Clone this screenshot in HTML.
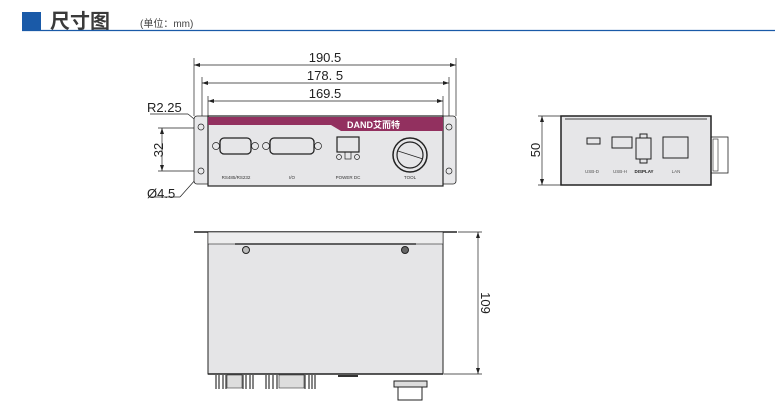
<!DOCTYPE html>
<html><head><meta charset="utf-8"><style>
body{margin:0;width:775px;height:409px;background:#fff;overflow:hidden}
svg{display:block}
text{font-family:"Liberation Sans","Noto Sans CJK SC",sans-serif}
</style></head><body>
<svg width="775" height="409" viewBox="0 0 775 409">
<rect x="22" y="12" width="19" height="18" fill="#1a5aa8"/>
<text x="50" y="28" font-size="20" fill="#3a3a3a" font-weight="bold">尺寸图</text>
<text x="140" y="27" font-size="10" fill="#444">(单位：mm)</text>
<line x1="22" y1="30.5" x2="775" y2="30.5" stroke="#1a5aa8" stroke-width="1.2"/>

<g stroke="#222" stroke-width="0.7" fill="none">
<line x1="194" y1="58" x2="194" y2="116"/><line x1="456" y1="58" x2="456" y2="116"/>
<line x1="194" y1="65" x2="456" y2="65"/>
<line x1="202" y1="77" x2="202" y2="118"/><line x1="449" y1="77" x2="449" y2="118"/>
<line x1="202" y1="83" x2="449" y2="83"/>
<line x1="208" y1="96" x2="208" y2="117"/><line x1="443" y1="96" x2="443" y2="117"/>
<line x1="208" y1="101" x2="443" y2="101"/>
<line x1="162" y1="128" x2="162" y2="171"/>
<line x1="158" y1="128" x2="204" y2="128"/><line x1="158" y1="171" x2="204" y2="171"/>
<line x1="150" y1="114" x2="188" y2="114"/><line x1="188" y1="114" x2="210" y2="132"/>
<line x1="150" y1="197" x2="180" y2="197"/><line x1="180" y1="197" x2="204" y2="170"/>
</g>
<g fill="#222">
<path d="M194,65 l6,-2 v4z M456,65 l-6,-2 v4z M202,83 l6,-2 v4z M449,83 l-6,-2 v4z M208,101 l6,-2 v4z M443,101 l-6,-2 v4z M162,128 l-2,6 h4z M162,171 l-2,-6 h4z"/>
</g>
<g font-size="13" fill="#222" text-anchor="middle">
<text x="325" y="62">190.5</text><text x="325" y="80">178. 5</text><text x="325" y="98">169.5</text>
</g>
<text x="147" y="112" font-size="13" fill="#222">R2.25</text>
<text x="147" y="198" font-size="13" fill="#222">Ø4.5</text>
<text x="158" y="150" font-size="13" fill="#222" text-anchor="middle" transform="rotate(-90 158 150)" dy="5">32</text>

<rect x="194" y="116" width="262" height="68" rx="3" fill="#e8e8ea" stroke="#222" stroke-width="0.8"/>
<rect x="208" y="116" width="235" height="70" fill="#e6e6e8" stroke="#222" stroke-width="1.2"/>
<path d="M208,117 H443 V131 H341 L331,125 H208Z" fill="#92305f"/>
<text x="347" y="128" font-size="9" fill="#fff" font-weight="bold">DAND艾而特</text>
<g stroke="#222" stroke-width="0.7" fill="none">
<circle cx="201" cy="127" r="3"/><circle cx="201" cy="171" r="3"/><circle cx="449" cy="127" r="3"/><circle cx="449" cy="171" r="3"/>
<rect x="220" y="138" width="31" height="16" rx="4" stroke-width="1.3"/><circle cx="216" cy="146" r="3.5"/><circle cx="255" cy="146" r="3.5"/>
<rect x="270" y="138" width="44" height="16" rx="4" stroke-width="1.3"/><circle cx="266" cy="146" r="3.5"/><circle cx="318" cy="146" r="3.5"/>
<rect x="337" y="137" width="22" height="15" stroke-width="1.2"/><rect x="345" y="152" width="6" height="7"/>
<circle cx="339" cy="157" r="2.5"/><circle cx="357" cy="157" r="2.5"/>
<circle cx="410" cy="155" r="17" stroke-width="1.5"/><circle cx="410" cy="155" r="13" stroke-width="1.2"/><line x1="398" y1="151" x2="423" y2="159"/>
</g>
<g font-size="4.5" fill="#333" text-anchor="middle">
<text x="236" y="179">RS485/RS232</text><text x="292" y="179">I/O</text><text x="348" y="179">POWER DC</text><text x="410" y="179">TOOL</text>
</g>

<g stroke="#222" stroke-width="0.7" fill="none">
<line x1="542" y1="116" x2="542" y2="185"/>
<line x1="538" y1="116" x2="561" y2="116"/><line x1="538" y1="185" x2="561" y2="185"/>
</g>
<path d="M542,116 l-2,6 h4z M542,185 l-2,-6 h4z" fill="#222"/>
<text x="535" y="150" font-size="13" fill="#222" text-anchor="middle" transform="rotate(-90 535 150)" dy="5">50</text>
<rect x="561" y="116" width="150" height="69" fill="#e6e6e8" stroke="#222" stroke-width="1.5"/>
<line x1="565" y1="119" x2="707" y2="119" stroke="#444" stroke-width="1"/>
<g stroke="#222" stroke-width="1" fill="none">
<rect x="587" y="138" width="13" height="6"/><rect x="612" y="137" width="20" height="11"/>
<rect x="636" y="138" width="15" height="21"/><rect x="640" y="134" width="7" height="4"/><rect x="640" y="159" width="7" height="4"/>
<rect x="663" y="137" width="25" height="21"/>
<rect x="711" y="137" width="17" height="36" stroke-width="0.8"/><rect x="713" y="139" width="5" height="32" stroke-width="0.6"/>
</g>
<g font-size="4.5" fill="#555" text-anchor="middle">
<text x="592" y="173">USB-D</text><text x="620" y="173">USB-H</text><text x="644" y="173" font-weight="bold" fill="#222">DISPLAY</text><text x="676" y="173">LAN</text>
</g>

<line x1="194" y1="232" x2="457" y2="232" stroke="#222" stroke-width="1.5"/>
<rect x="208" y="232" width="235" height="142" fill="#e5e5e7" stroke="#222" stroke-width="1"/>
<rect x="208" y="232" width="235" height="12" fill="#ededee" stroke="#222" stroke-width="0.6"/>
<line x1="235" y1="244" x2="416" y2="244" stroke="#333" stroke-width="1.5"/>
<circle cx="246" cy="250" r="3.5" fill="#bbb" stroke="#222"/><circle cx="405" cy="250" r="3.5" fill="#666" stroke="#222"/>
<line x1="208" y1="374" x2="443" y2="374" stroke="#222" stroke-width="1.5"/>
<g stroke="#333" stroke-width="1.2">
<line x1="216" y1="375" x2="216" y2="389"/><line x1="219" y1="375" x2="219" y2="389"/><line x1="223" y1="375" x2="223" y2="389"/><line x1="226" y1="375" x2="226" y2="389"/>
<line x1="243" y1="375" x2="243" y2="389"/><line x1="246" y1="375" x2="246" y2="389"/><line x1="250" y1="375" x2="250" y2="389"/><line x1="253" y1="375" x2="253" y2="389"/>
<line x1="266" y1="375" x2="266" y2="389"/><line x1="269" y1="375" x2="269" y2="389"/><line x1="273" y1="375" x2="273" y2="389"/><line x1="277" y1="375" x2="277" y2="389"/>
<line x1="305" y1="375" x2="305" y2="389"/><line x1="309" y1="375" x2="309" y2="389"/><line x1="312" y1="375" x2="312" y2="389"/><line x1="315" y1="375" x2="315" y2="389"/>
</g>
<rect x="227" y="375" width="15" height="13" fill="#ddd" stroke="#333" stroke-width="0.6"/>
<rect x="279" y="375" width="25" height="13" fill="#ddd" stroke="#333" stroke-width="0.6"/>
<rect x="338" y="375" width="20" height="2" fill="#333"/>
<rect x="394" y="381" width="33" height="6" fill="#ddd" stroke="#222"/>
<rect x="398" y="387" width="24" height="13" fill="#fff" stroke="#222"/>
<g stroke="#222" stroke-width="0.7">
<line x1="478" y1="232" x2="478" y2="374"/><line x1="458" y1="232" x2="482" y2="232"/><line x1="444" y1="374" x2="482" y2="374"/>
</g>
<path d="M478,232 l-2,6 h4z M478,374 l-2,-6 h4z" fill="#222"/>
<text x="486" y="303" font-size="13" fill="#222" text-anchor="middle" transform="rotate(90 486 303)" dy="5">109</text>
</svg>
</body></html>
